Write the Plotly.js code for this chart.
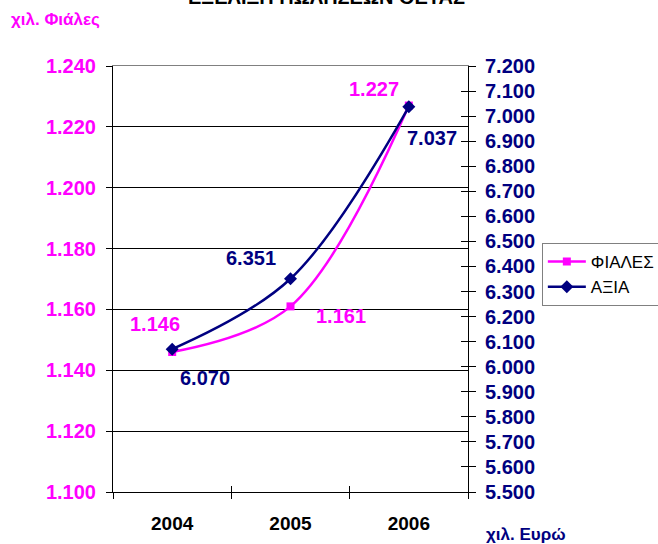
<!DOCTYPE html>
<html>
<head>
<meta charset="utf-8">
<script src="https://cdn.plot.ly/plotly-3.0.1.min.js"></script>
<style>html,body{margin:0;padding:0;background:#fff;}#chart{width:658px;height:544px;}</style>
</head>
<body>
<div id="chart"></div>
<script>
// ---- data ----
var years = ['2004', '2005', '2006'];
var bottles = [1146, 1161, 1227];      // χιλ. Φιάλες (left axis)
var value = [6070, 6351, 7037];        // χιλ. Ευρώ (right axis)
var seriesNames = ['ΦΙΑΛΕΣ', 'ΑΞΙΑ'];
var titleText = 'ΕΞΕΛΙΞΗ ΠΩΛΗΣΕΩΝ ΘΕΤΑΣ';
var leftUnit = 'χιλ. Φιάλες';
var rightUnit = 'χιλ. Ευρώ';

var MAG = '#FF00FF', NAVY = '#000080';
var FAM = 'Liberation Sans, Arial, sans-serif';

function fmt(v) { return String(v).replace(/\B(?=(\d{3})+(?!\d))/g, '.'); }

var traces = [
  {x: years, y: bottles, name: seriesNames[0], type: 'scatter', mode: 'lines+markers',
   line: {color: MAG, width: 2.5, shape: 'spline', smoothing: 1},
   marker: {symbol: 'square', size: 8, color: MAG}, xaxis: 'x', yaxis: 'y'},
  {x: years, y: value, name: seriesNames[1], type: 'scatter', mode: 'lines+markers',
   line: {color: NAVY, width: 2.5, shape: 'spline', smoothing: 1},
   marker: {symbol: 'diamond', size: 10, color: NAVY}, xaxis: 'x', yaxis: 'y2'},
  {x: [], y: [], xaxis: 'x2', yaxis: 'y3', showlegend: false, hoverinfo: 'skip'},
  {x: [], y: [], xaxis: 'x3', yaxis: 'y', showlegend: false, hoverinfo: 'skip'}
];

// label offsets (pixels) relative to each point
var bOff = [[-17, 28], [50, -10], [-35, 17]];
var vOff = [[33, -29], [-40, 21], [23, -31]];

var annotations = [];
years.forEach(function (yr, i) {
  annotations.push({x: i, y: bottles[i], xref: 'x', yref: 'y', showarrow: false,
    text: '<b>' + fmt(bottles[i]) + '</b>', font: {family: FAM, size: 20, color: MAG},
    xshift: bOff[i][0], yshift: bOff[i][1]});
  annotations.push({x: i, y: value[i], xref: 'x', yref: 'y2', showarrow: false,
    text: '<b>' + fmt(value[i]) + '</b>', font: {family: FAM, size: 20, color: NAVY},
    xshift: vOff[i][0], yshift: vOff[i][1]});
});
annotations.push({xref: 'paper', yref: 'paper', x: 0.6028, y: 1.1315, xanchor: 'center', yanchor: 'bottom',
  showarrow: false, text: '<b>' + titleText + '</b>', font: {family: FAM, size: 20, color: '#000'}});
annotations.push({xref: 'paper', yref: 'paper', x: -0.1606, y: 1.108, xanchor: 'center', yanchor: 'middle',
  showarrow: false, text: '<b>' + leftUnit + '</b>', font: {family: FAM, size: 17, color: MAG}});
annotations.push({xref: 'paper', yref: 'paper', x: 1.163, y: -0.1, xanchor: 'center', yanchor: 'middle',
  showarrow: false, text: '<b>' + rightUnit + '</b>', font: {family: FAM, size: 17, color: NAVY}});

var layout = {
  width: 658, height: 544,
  margin: {l: 113, r: 190, t: 66, b: 52, pad: 0, autoexpand: false},
  paper_bgcolor: '#fff', plot_bgcolor: '#fff',
  separators: ',.',
  font: {family: FAM, color: '#000'},
  showlegend: true,
  legend: {x: 1.208, y: 0.5845, xanchor: 'left', yanchor: 'top',
    bordercolor: '#808080', borderwidth: 1, bgcolor: '#fff', itemwidth: 38,
    font: {family: FAM, size: 17, color: '#000'}, tracegroupgap: 4},
  xaxis: {type: 'category', range: [-0.5, 2.5], showline: true, linecolor: '#000', linewidth: 1,
    ticks: 'outside', tickson: 'boundaries', ticklen: 6, tickcolor: '#000', tickwidth: 1,
    ticklabelstandoff: 14,
    showgrid: false, zeroline: false,
    tickfont: {family: FAM, size: 19, color: '#000', weight: 'bold'}},
  xaxis2: {overlaying: 'x', anchor: 'y', side: 'bottom', type: 'linear', range: [-0.5, 2.5],
    tickvals: [-0.5, 0.5, 1.5, 2.5], ticks: 'inside', ticklen: 6, tickcolor: '#000',
    showticklabels: false, showgrid: false, zeroline: false, showline: false},
  xaxis3: {overlaying: 'x', anchor: 'y', side: 'top', type: 'linear', range: [-0.5, 2.5],
    ticks: '', showticklabels: false, showgrid: false, zeroline: false,
    showline: true, linecolor: '#808080', linewidth: 1},
  yaxis: {range: [1100, 1240], dtick: 20, tick0: 1100, tickformat: ',d',
    showline: true, linecolor: '#000', linewidth: 1,
    ticks: 'outside', ticklen: 6, tickcolor: '#000', ticklabelstandoff: 6,
    showgrid: true, gridcolor: '#000', gridwidth: 1, zeroline: false,
    tickfont: {family: FAM, size: 20, color: MAG, weight: 'bold'}},
  yaxis2: {overlaying: 'y', side: 'right', anchor: 'x', range: [5500, 7200], dtick: 100, tick0: 5500,
    tickformat: ',d', showline: true, linecolor: '#000', linewidth: 1,
    ticks: 'outside', ticklen: 7, tickcolor: '#000', ticklabelstandoff: 5,
    showgrid: false, zeroline: false,
    tickfont: {family: FAM, size: 20, color: NAVY, weight: 'bold'}},
  yaxis3: {overlaying: 'y', side: 'right', anchor: 'x2', range: [5500, 7200], dtick: 100, tick0: 5500,
    ticks: 'inside', ticklen: 7, tickcolor: '#000', showticklabels: false,
    showgrid: false, zeroline: false, showline: false},
  annotations: annotations
};

Plotly.newPlot('chart', traces, layout, {displayModeBar: false, staticPlot: true});
</script>
</body>
</html>
